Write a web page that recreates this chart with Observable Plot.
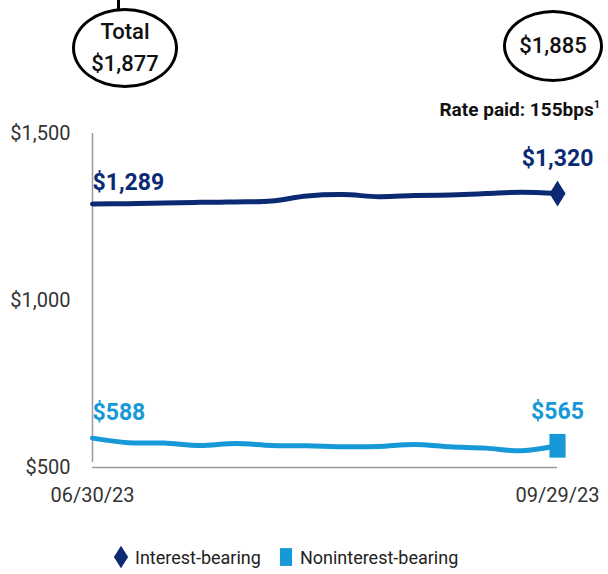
<!DOCTYPE html>
<html>
<head>
<meta charset="utf-8">
<script src="https://cdn.jsdelivr.net/npm/d3@7"></script>
<script src="https://cdn.jsdelivr.net/npm/@observablehq/plot@0.6"></script>
<style>
  html, body { margin: 0; padding: 0; background: #fff; }
  body { width: 608px; height: 574px; overflow: hidden; font-family: Roboto, "Liberation Sans", sans-serif; }
  #wrap { position: relative; width: 608px; height: 574px; }
  #chart svg { display: block; }
  .ell { position: absolute; border: 3.5px solid #000; border-radius: 50%; box-sizing: border-box;
         display: flex; flex-direction: column; align-items: center; justify-content: center;
         font-size: 22px; line-height: 32px; color: #111; font-weight: 500; }
  #stem { position: absolute; left: 117px; top: 0; width: 3px; height: 10px; background: #000; }
  #rate { position: absolute; right: 8px; top: 98px; font-size: 19px; font-weight: bold; color: #111; white-space: nowrap; }
  #rate sup { font-size: 11px; vertical-align: 8px; line-height: 0; }
  #legend { position: absolute; left: 110px; top: 543px; display: flex; align-items: center;
            font-size: 18px; color: #222; }
  #legend .item { display: flex; align-items: center; }
  #legend svg { display: block; margin-right: 3px; }
</style>
</head>
<body>
<div id="wrap">
  <div id="chart"></div>
  <div id="stem"></div>
  <div class="ell" id="ellL" style="left:72px; top:8px; width:106px; height:80px;"></div>
  <div class="ell" id="ellR" style="left:503px; top:10px; width:100px; height:72px;"></div>
  <div id="rate"></div>
  <div id="legend"></div>
</div>
<script>
// ---- Data ----
const dates = ["2023-06-30","2023-07-07","2023-07-14","2023-07-21","2023-07-28","2023-08-04","2023-08-11",
               "2023-08-18","2023-08-25","2023-09-01","2023-09-08","2023-09-15","2023-09-22","2023-09-29"];
const interestBearing    = [1289, 1290, 1292, 1294, 1295, 1298, 1313, 1317, 1311, 1314, 1316, 1320, 1324, 1320];
const noninterestBearing = [588, 574, 573, 566, 572, 566, 565, 562, 563, 569, 562, 558, 550, 565];
const seriesNames = ["Interest-bearing", "Noninterest-bearing"];
const totalLabels = ["Total", "$1,877"];
const endTotalLabel = "$1,885";
const rateLabel = "Rate paid: 155bps";
const rateNote = "1";
const yTicks = [500, 1000, 1500];

const navy = "#0b2a74";
const light = "#1799d8";
const font = 'Roboto, "Liberation Sans", sans-serif';

const parse = d3.utcParse("%Y-%m-%d");
const ib = dates.map((d, i) => ({date: parse(d), value: interestBearing[i]}));
const nib = dates.map((d, i) => ({date: parse(d), value: noninterestBearing[i]}));
const first = ib[0].date, last = ib[ib.length - 1].date;
const money = d => "$" + d3.format(",")(d);

// tall symbols
const tallDiamond = {draw(ctx, size) { const r = Math.sqrt(size / Math.PI); const w = r * 0.85, h = r * 1.35;
  ctx.moveTo(0, -h); ctx.lineTo(w, 0); ctx.lineTo(0, h); ctx.lineTo(-w, 0); ctx.closePath(); }};
const tallRect = {draw(ctx, size) { const r = Math.sqrt(size / Math.PI); const w = r * 0.85, h = r * 1.25;
  ctx.rect(-w, -h, 2 * w, 2 * h); }};

const chart = Plot.plot({
  width: 608, height: 520,
  marginTop: 133, marginBottom: 53, marginLeft: 92, marginRight: 51,
  style: {fontFamily: font, background: "transparent"},
  x: {type: "utc", domain: [first, last]},
  y: {domain: [500, 1500]},
  marks: [
    Plot.axisY({ticks: yTicks, tickSize: 0, tickPadding: 22, tickFormat: money, fontSize: 20, color: "#333", label: null}),
    Plot.axisX({ticks: [first, last], tickSize: 0, tickPadding: 20, tickFormat: d3.utcFormat("%m/%d/%y"), fontSize: 20, color: "#333", label: null}),
    Plot.ruleY([500], {stroke: "#9a9a9a", strokeWidth: 1.5}),
    Plot.ruleX([first], {y1: 500, y2: 1500, insetTop: -5, stroke: "#9a9a9a", strokeWidth: 1.5}),
    Plot.line(ib, {x: "date", y: "value", stroke: navy, strokeWidth: 5, curve: "catmull-rom"}),
    Plot.line(nib, {x: "date", y: "value", stroke: light, strokeWidth: 5, curve: "catmull-rom"}),
    Plot.dot([ib[ib.length - 1]], {x: "date", y: "value", symbol: tallDiamond, r: 9.5, fill: navy}),
    Plot.dot([nib[nib.length - 1]], {x: "date", y: "value", symbol: tallRect, r: 9.5, fill: light}),
    Plot.text([ib[0]], {x: "date", y: "value", text: d => money(d.value), textAnchor: "start", dy: -21, fill: navy, fontSize: 23, fontWeight: "bold"}),
    Plot.text([ib[ib.length - 1]], {x: "date", y: "value", text: d => money(d.value), textAnchor: "middle", dy: -35, fill: navy, fontSize: 23, fontWeight: "bold"}),
    Plot.text([nib[0]], {x: "date", y: "value", text: d => money(d.value), textAnchor: "start", dy: -25, fill: light, fontSize: 23, fontWeight: "bold"}),
    Plot.text([nib[nib.length - 1]], {x: "date", y: "value", text: d => money(d.value), textAnchor: "middle", dy: -34, fill: light, fontSize: 23, fontWeight: "bold"})
  ]
});
document.getElementById("chart").appendChild(chart);

// annotations
const ellL = document.getElementById("ellL");
totalLabels.forEach(t => { const s = document.createElement("div"); s.textContent = t; ellL.appendChild(s); });
document.getElementById("ellR").textContent = endTotalLabel;
const rate = document.getElementById("rate");
rate.textContent = rateLabel;
const sup = document.createElement("sup"); sup.textContent = rateNote; rate.appendChild(sup);

// legend
const legend = document.getElementById("legend");
const syms = [tallDiamond, tallRect], cols = [navy, light];
seriesNames.forEach((name, i) => {
  const item = document.createElement("div"); item.className = "item";
  if (i > 0) item.style.marginLeft = "14px";
  const s = d3.create("svg").attr("width", 22).attr("height", 28);
  s.append("path").attr("transform", "translate(11,14)").attr("fill", cols[i])
    .attr("d", d3.symbol(syms[i], i === 0 ? 220 : 160)());
  item.appendChild(s.node());
  const t = document.createElement("span"); t.textContent = name; item.appendChild(t);
  legend.appendChild(item);
});
</script>
</body>
</html>
